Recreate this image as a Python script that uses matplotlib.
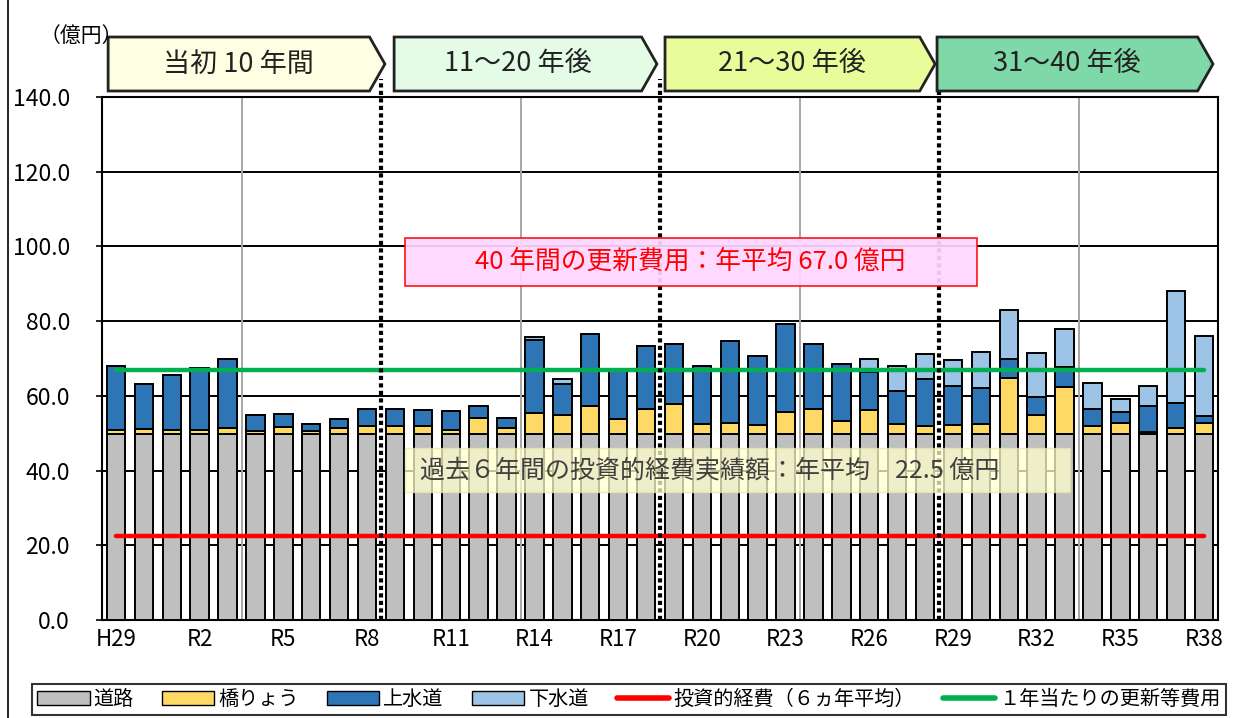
import matplotlib
matplotlib.use("Agg")
import matplotlib.pyplot as plt
import matplotlib.patches as mpatches
import matplotlib.transforms as mtransforms
from matplotlib.lines import Line2D

plt.rcParams['font.family'] = ['Noto Sans CJK JP', 'DejaVu Sans']

# ---- data (億円) ----
years = ['H29', 'H30'] + ['R%d' % i for i in range(1, 39)]

road = [49.8, 49.8, 49.8, 49.8, 49.8, 49.8, 49.8, 49.8, 49.8, 49.8,
        49.8, 49.8, 49.8, 49.8, 49.8, 49.8, 49.8, 49.8, 49.8, 49.8,
        49.8, 49.8, 49.8, 49.8, 49.8, 49.8, 49.8, 49.8, 49.8, 49.8,
        49.8, 49.8, 49.8, 49.8, 49.8, 49.8, 49.8, 49.8, 49.8, 49.8]
bridge = [1.1, 1.3, 1.1, 1.1, 1.7, 0.8, 1.9, 0.8, 1.5, 2.1,
          2.0, 2.1, 1.1, 4.3, 1.6, 5.5, 5.1, 7.5, 3.9, 6.8,
          7.9, 2.7, 2.9, 2.3, 5.9, 6.7, 3.5, 6.4, 2.6, 2.1,
          2.4, 2.8, 14.9, 5.0, 12.7, 2.0, 2.9, 0.5, 1.7, 2.9]
water = [17.2, 12.0, 14.7, 16.6, 18.4, 4.3, 3.4, 1.9, 2.4, 4.5,
         4.7, 4.3, 5.0, 3.2, 2.8, 19.6, 8.3, 19.3, 13.3, 16.8,
         16.3, 15.4, 22.1, 18.7, 23.6, 17.5, 15.1, 10.3, 9.0, 12.7,
         10.5, 9.4, 5.2, 5.0, 5.3, 4.7, 3.1, 7.0, 6.5, 1.9]
sewer = [0.0, 0.0, 0.0, 0.0, 0.0, 0.0, 0.0, 0.0, 0.0, 0.0,
         0.0, 0.0, 0.0, 0.0, 0.0, 0.9, 1.2, 0.0, 0.0, 0.0,
         0.0, 0.0, 0.0, 0.0, 0.0, 0.0, 0.0, 3.5, 6.5, 6.6,
         6.9, 9.8, 13.1, 11.6, 10.0, 6.9, 3.3, 5.4, 30.1, 21.4]

invest_avg = 22.5
renewal_avg = 67.0

phases = ['当初 10 年間', '11～20 年後', '21～30 年後', '31～40 年後']
phase_colors = ['#FEFEE2', '#E4FCE6', '#E8FC9A', '#7FD8A8']

# ---- figure ----
fig = plt.figure(figsize=(12.37, 7.18), dpi=100)
ax = fig.add_axes([102 / 1237, (718 - 620) / 718, 1116 / 1237, 523 / 718])

x = list(range(len(years)))
w = 0.66
b1 = road
b2 = [r + b for r, b in zip(road, bridge)]
b3 = [a + wt for a, wt in zip(b2, water)]

ax.bar(x, road, w, color='#BFBFBF', edgecolor='black', linewidth=1.4, zorder=3)
ax.bar(x, bridge, w, bottom=b1, color='#FFD966', edgecolor='black', linewidth=1.4, zorder=3)
ax.bar(x, water, w, bottom=b2, color='#2E75B6', edgecolor='black', linewidth=1.4, zorder=3)
ax.bar(x, sewer, w, bottom=b3, color='#9DC3E6', edgecolor='black', linewidth=1.4, zorder=3)

ax.plot([x[0], x[-1]], [invest_avg, invest_avg], color='#FF0000', lw=3.2,
        solid_capstyle='round', zorder=5)
ax.plot([x[0], x[-1]], [renewal_avg, renewal_avg], color='#00B050', lw=3.2,
        solid_capstyle='round', zorder=5)

ax.set_xlim(-0.5, len(years) - 0.5)
ax.set_ylim(0, 140)
ax.set_yticks(range(0, 141, 20))
ax.set_yticklabels(['%.1f' % v for v in range(0, 141, 20)])
ax.set_xticks(x[::3])
ax.set_xticklabels(years[::3])
ax.tick_params(axis='y', labelsize=16.5, length=4, width=1.2, pad=19)
ax.tick_params(axis='x', labelsize=16, length=0, pad=6)
for s in ax.spines.values():
    s.set_linewidth(1.5)
for gy in range(20, 140, 20):
    ax.axhline(gy, color='black', lw=1.4, zorder=1)
for gx in [4.5, 14.5, 24.5, 34.5]:
    ax.axvline(gx, color='#A6A6A6', lw=1.4, zorder=1)

# phase separators
trans = mtransforms.blended_transform_factory(ax.transData, ax.transAxes)
for sx in [9.5, 19.5, 29.5]:
    ax.plot([sx, sx], [0, 1.035], transform=trans, color='black', lw=3,
            linestyle=(0, (1, 0.8)), zorder=6, clip_on=False)

# phase arrow boxes
starts = [-0.28, 9.97, 19.68, 29.43]
ends = [9.64, 19.39, 29.36, 39.32]
y0, y1 = 1.0115, 1.1147
for name, col, s, e in zip(phases, phase_colors, starts, ends):
    d = 0.55
    poly = mpatches.Polygon([(s, y0), (e - d, y0), (e, (y0 + y1) / 2), (e - d, y1), (s, y1)],
                            closed=True, transform=trans, facecolor=col,
                            edgecolor='#222222', lw=2, clip_on=False, zorder=7)
    ax.add_patch(poly)
    ax.text((s + e - d) / 2, (y0 + y1) / 2, name, transform=trans, ha='center',
            va='center', fontsize=19.5, color='#222222', zorder=8, clip_on=False)

# annotation boxes
ax.add_patch(mpatches.Rectangle((10.36, 89.4), 20.5, 12.8, facecolor='#FFD6FF',
                                edgecolor='#FF0000', lw=1.2, alpha=0.92, zorder=7))
ax.text(20.6, 95.8, '40 年間の更新費用：年平均 67.0 億円', ha='center', va='center',
        fontsize=18.5, color='#FF0000', zorder=8)

ax.add_patch(mpatches.Rectangle((10.36, 34.3), 23.84, 11.7, facecolor='#FFFFCC',
                                edgecolor='#E6E6B0', lw=1, alpha=0.75, zorder=7))
ax.text(10.9, 40.1, '過去６年間の投資的経費実績額：年平均　22.5 億円', ha='left', va='center',
        fontsize=18, color='#404040', zorder=8)

fig.text(40 / 1237, 1 - 36 / 718, '（億円）', fontsize=15, ha='left', va='center')

# legend
handles = [
    mpatches.Patch(facecolor='#BFBFBF', edgecolor='black', label='道路'),
    mpatches.Patch(facecolor='#FFD966', edgecolor='black', label='橋りょう'),
    mpatches.Patch(facecolor='#2E75B6', edgecolor='black', label='上水道'),
    mpatches.Patch(facecolor='#9DC3E6', edgecolor='black', label='下水道'),
    Line2D([], [], color='#FF0000', lw=4, solid_capstyle='round', label='投資的経費（６ヵ年平均）'),
    Line2D([], [], color='#00B050', lw=4, solid_capstyle='round', label='１年当たりの更新等費用'),
]
leg = fig.legend(handles=handles, loc='center', bbox_to_anchor=(629 / 1237, 1 - 699.5 / 718),
                 ncol=6, fontsize=14.5, frameon=True, fancybox=False, handlelength=2.6,
                 handleheight=0.7, columnspacing=1.4, handletextpad=0.2, borderpad=0.25)
leg.get_frame().set_edgecolor('black')
leg.get_frame().set_linewidth(1.5)

fig.add_artist(Line2D([8 / 1237, 8 / 1237], [0, 1], color='black', lw=1.2))

fig.savefig('out.png', dpi=100)
